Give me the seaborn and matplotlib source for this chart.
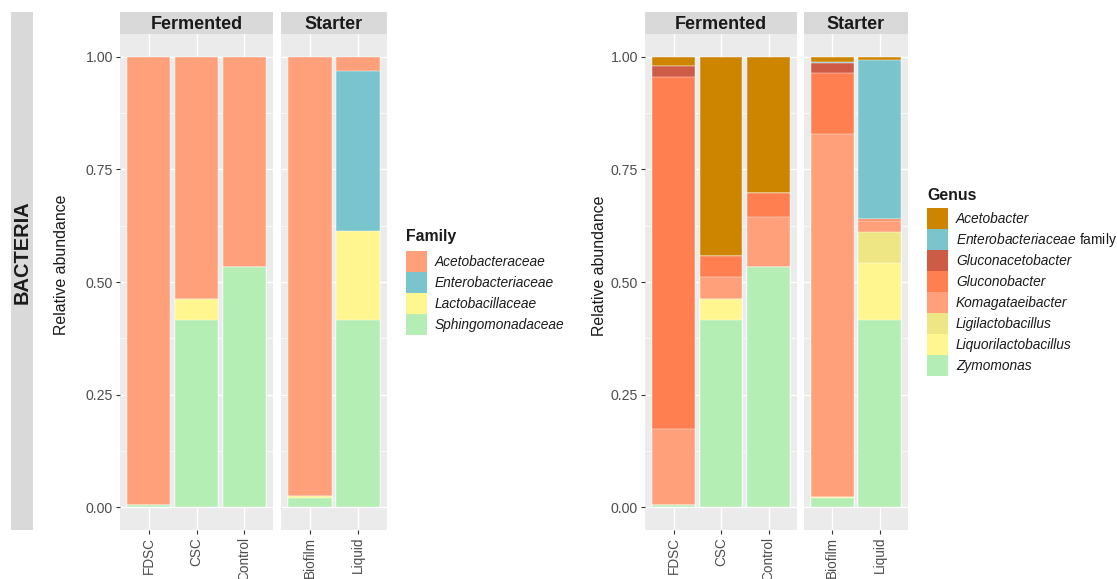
import numpy as np
import pandas as pd
import matplotlib
matplotlib.use("Agg")
import matplotlib.pyplot as plt
import seaborn as sns
from matplotlib.patches import Patch, Rectangle

# ---- data -------------------------------------------------------------
samples = ["FDSC", "CSC", "Control", "Biofilm", "Liquid"]
groups = ["Fermented", "Fermented", "Fermented", "Starter", "Starter"]

family_levels = ["Acetobacteraceae", "Enterobacteriaceae",
                 "Lactobacillaceae", "Sphingomonadaceae"]
acetobacteraceae = [0.995, 0.538, 0.466, 0.974, 0.033]
enterobacteriaceae = [0.000, 0.000, 0.000, 0.000, 0.354]
lactobacillaceae = [0.000, 0.047, 0.000, 0.004, 0.197]
sphingomonadaceae = [0.005, 0.415, 0.534, 0.022, 0.416]
family_colors = ["#FFA07A", "#7AC5CD", "#FFF68F", "#B4EEB4"]

genus_levels = ["Acetobacter", "Enterobacteriaceae family", "Gluconacetobacter",
                "Gluconobacter", "Komagataeibacter", "Ligilactobacillus",
                "Liquorilactobacillus", "Zymomonas"]
acetobacter = [0.022, 0.442, 0.303, 0.012, 0.008]
enterobacteriaceae_family = [0.000, 0.000, 0.000, 0.003, 0.352]
gluconacetobacter = [0.024, 0.000, 0.000, 0.022, 0.000]
gluconobacter = [0.779, 0.047, 0.053, 0.135, 0.004]
komagataeibacter = [0.170, 0.048, 0.111, 0.804, 0.025]
ligilactobacillus = [0.000, 0.000, 0.000, 0.000, 0.068]
liquorilactobacillus = [0.000, 0.048, 0.000, 0.004, 0.127]
zymomonas = [0.005, 0.415, 0.533, 0.020, 0.416]
genus_colors = ["#CD8500", "#7AC5CD", "#CD5B45", "#FF7F50",
                "#FFA07A", "#EEE685", "#FFF68F", "#B4EEB4"]

y_ticks = [0.00, 0.25, 0.50, 0.75, 1.00]
y_tick_labels = ["0.00", "0.25", "0.50", "0.75", "1.00"]


def long_table(levels, series):
    rows = []
    for lvl, vals in zip(levels, series):
        for s, g, v in zip(samples, groups, vals):
            rows.append({"sample": s, "group": g, "taxon": lvl, "value": v})
    df = pd.DataFrame(rows)
    df["taxon"] = pd.Categorical(df["taxon"], categories=levels, ordered=True)
    # stack with the last level at the bottom: top edge of each segment
    df = df.sort_values(["sample", "taxon"], ascending=[True, False])
    df["top"] = df.groupby("sample", sort=False)["value"].cumsum()
    return df


family_df = long_table(family_levels,
                       [acetobacteraceae, enterobacteriaceae,
                        lactobacillaceae, sphingomonadaceae])
genus_df = long_table(genus_levels,
                      [acetobacter, enterobacteriaceae_family, gluconacetobacter,
                       gluconobacter, komagataeibacter, ligilactobacillus,
                       liquorilactobacillus, zymomonas])

# ---- figure -------------------------------------------------------------
W, H = 1117, 579
sns.set_theme(style="white")
plt.rcParams["font.family"] = ["Liberation Sans", "DejaVu Sans"]
plt.rcParams["mathtext.fontset"] = "custom"
plt.rcParams["mathtext.it"] = "Liberation Sans:italic"
plt.rcParams["mathtext.rm"] = "Liberation Sans"

fig = plt.figure(figsize=(W / 100, H / 100), dpi=100)
fig.patch.set_facecolor("white")

PANEL_BG = "#EBEBEB"
STRIP_BG = "#D9D9D9"
TICK_TXT = "#4D4D4D"
TICK_LINE = "#333333"
TEXT = "#1A1A1A"


def px_axes(x0, x1, y0, y1, **kw):
    return fig.add_axes([x0 / W, 1 - y1 / H, (x1 - x0) / W, (y1 - y0) / H], **kw)


def facet(df, levels, colors, group, x0, x1, show_y):
    order = [s for s, g in zip(samples, groups) if g == group]
    ax = px_axes(x0, x1, 34, 530)
    ax.set_facecolor(PANEL_BG)
    sub = df[df["group"] == group]
    for lvl, col in zip(levels, colors):
        d = sub[sub["taxon"] == lvl]
        sns.barplot(data=d, x="sample", y="top", order=order, color=col,
                    width=0.9, saturation=1, errorbar=None,
                    edgecolor="white", linewidth=0.3, ax=ax, zorder=3)
    ax.set_xlim(-0.6, len(order) - 0.4)
    ax.set_ylim(-0.05, 1.05)
    ax.set_yticks(y_ticks)
    ax.set_yticks([0.125, 0.375, 0.625, 0.875], minor=True)
    ax.set_yticklabels(y_tick_labels if show_y else [])
    ax.set_axisbelow(True)
    ax.grid(True, which="major", axis="both", color="white", linewidth=1.0, zorder=0)
    ax.grid(True, which="minor", axis="y", color="white", linewidth=0.5, zorder=0)
    ax.set_xlabel("")
    ax.set_ylabel("")
    for sp in ax.spines.values():
        sp.set_visible(False)
    ax.tick_params(axis="x", which="major", length=3, width=0.8, color=TICK_LINE,
                   labelcolor=TICK_TXT, labelsize=9.8, pad=2, labelrotation=90,
                   bottom=True)
    ax.tick_params(axis="y", which="major", length=3 if show_y else 0, width=0.8,
                   color=TICK_LINE, labelcolor=TICK_TXT, labelsize=10.2, pad=2,
                   left=True)
    ax.tick_params(axis="y", which="minor", length=0, left=False)
    # facet strip
    st = px_axes(x0, x1, 12, 34)
    st.set_facecolor(STRIP_BG)
    st.set_xticks([])
    st.set_yticks([])
    for sp in st.spines.values():
        sp.set_visible(False)
    st.text(0.5, 0.45, group, transform=st.transAxes, ha="center", va="center",
            fontsize=13, fontweight="bold", color=TEXT)
    return ax


# left chart: family level
facet(family_df, family_levels, family_colors, "Fermented", 120, 273, True)
facet(family_df, family_levels, family_colors, "Starter", 281, 387, False)
# right chart: genus level
facet(genus_df, genus_levels, genus_colors, "Fermented", 645, 797, True)
facet(genus_df, genus_levels, genus_colors, "Starter", 804, 908, False)

# axis titles
fig.text(62 / W, 1 - 265 / H, "Relative abundance", rotation=90,
         ha="center", va="center", fontsize=11.4, color=TEXT)
fig.text(599 / W, 1 - 266 / H, "Relative abundance", rotation=90,
         ha="center", va="center", fontsize=11.4, color=TEXT)

# side strip
fig.add_artist(Rectangle((11 / W, 1 - 530 / H), 22 / W, 518 / H,
                         transform=fig.transFigure, facecolor=STRIP_BG,
                         edgecolor="none"))
fig.text(22 / W, 1 - 252 / H, "BACTERIA", rotation=90, ha="center", va="center",
         fontsize=14.4, fontweight="bold", color=TEXT)


def legend(levels, colors, title, x, title_y, keys_top):
    handles = [Patch(facecolor=c, edgecolor="none") for c in colors]
    labels = [r"$\mathit{Enterobacteriaceae}$ family"
              if l == "Enterobacteriaceae family" else l for l in levels]
    leg = fig.legend(handles, labels, loc="upper left",
                     bbox_to_anchor=(x / W, 1 - keys_top / H), frameon=False,
                     fontsize=9.9, handlelength=1.55, handleheight=1.97,
                     labelspacing=0, handletextpad=0.55, borderpad=0,
                     borderaxespad=0)
    for t, l in zip(leg.get_texts(), levels):
        t.set_color(TEXT)
        if l != "Enterobacteriaceae family":
            t.set_fontstyle("italic")
    fig.text(x / W, 1 - title_y / H, title, ha="left", va="center",
             fontsize=11.4, fontweight="bold", color=TEXT)
    return leg


legend(family_levels, family_colors, "Family", 406, 237, 251)
legend(genus_levels, genus_colors, "Genus", 927, 195, 208)

fig.savefig("out.png", dpi=100)
